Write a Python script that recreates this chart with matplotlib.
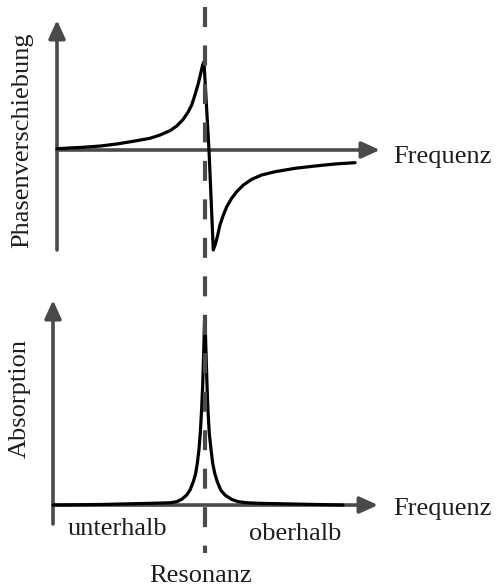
import matplotlib
matplotlib.use("Agg")
import matplotlib.pyplot as plt
from matplotlib.lines import Line2D
from matplotlib import transforms

plt.rcParams['font.family'] = ['Liberation Serif', 'DejaVu Serif']
plt.rcParams['lines.scale_dashes'] = False

# ---- data (relative frequency: resonance = 1.0) ----
phase_freq = [0.0, 0.088, 0.178, 0.291, 0.403, 0.516, 0.628, 0.696, 0.764, 0.809,
              0.853, 0.887, 0.910, 0.932, 0.955, 0.971, 0.984, 0.993,
              1.027,
              1.056, 1.072, 1.086, 1.101, 1.124, 1.147, 1.180, 1.214, 1.259, 1.316,
              1.383, 1.473, 1.608, 1.743, 1.878, 2.014]
phase_vals = [0.015, 0.023, 0.031, 0.045, 0.068, 0.099, 0.133, 0.170, 0.220, 0.273,
              0.349, 0.435, 0.511, 0.625, 0.758, 0.871, 0.966, 1.003,
              0.0,
              -1.136, -1.061, -0.966, -0.852, -0.739, -0.644, -0.549, -0.474, -0.398, -0.333,
              -0.284, -0.247, -0.208, -0.182, -0.159, -0.144]

abs_freq = [-0.027, 0.300, 0.628, 0.764, 0.809, 0.842, 0.876, 0.899, 0.921, 0.937,
            0.948, 0.959, 0.968, 0.977, 0.984, 0.991, 0.995, 0.998,
            1.002, 1.007, 1.014, 1.020, 1.029, 1.041, 1.052, 1.066, 1.083, 1.106,
            1.135, 1.180, 1.225, 1.282, 1.372, 1.932]
abs_vals = [0.0, 0.003, 0.009, 0.012, 0.018, 0.030, 0.053, 0.080, 0.124, 0.168,
            0.222, 0.293, 0.381, 0.505, 0.629, 0.807, 0.931, 1.002,
            0.931, 0.807, 0.629, 0.505, 0.381, 0.293, 0.222, 0.168, 0.124, 0.080,
            0.053, 0.030, 0.018, 0.012, 0.009, 0.0]

resonance = 1.0
x_label = "Frequenz"
top_ylabel = "Phasenverschiebung"
bottom_ylabel = "Absorption"
region_labels = ["unterhalb", "oberhalb"]
res_label = "Resonanz"

W, H = 496, 586
fig = plt.figure(figsize=(W / 100, H / 100), dpi=100)

axis_col = '#4a4a4a'
text_col = '#1e1e1e'
fs = 19

def px_ax(left, top, right, bottom):
    return fig.add_axes([left / W, 1 - bottom / H, (right - left) / W, (bottom - top) / H])

# top panel
ax1 = px_ax(40, 0, 400, 270)
ax1.set_xlim(-0.1149, 2.3176)
ax1.set_ylim(-1.3636, 1.7045)
ax1.axis('off')

# bottom panel
ax2 = px_ax(40, 280, 400, 540)
ax2.set_xlim(-0.1149, 2.3176)
ax2.set_ylim(-0.186, 1.197)
ax2.axis('off')

arrow_kw = dict(arrowstyle='-|>,head_length=0.55,head_width=0.25', mutation_scale=20,
                color=axis_col, lw=2.6, shrinkA=0, shrinkB=0)

# top axes arrows
ax1.annotate('', xy=(0, 1.477), xytext=(0, -1.136), arrowprops=arrow_kw,
             annotation_clip=False)
ax1.annotate('', xy=(2.182, 0), xytext=(0, 0), arrowprops=arrow_kw,
             annotation_clip=False)
# bottom axes arrows
ax2.annotate('', xy=(-0.027, 1.09), xytext=(-0.027, -0.101), arrowprops=arrow_kw,
             annotation_clip=False)
ax2.annotate('', xy=(2.169, 0), xytext=(-0.027, 0), arrowprops=arrow_kw,
             annotation_clip=False)

# dashed resonance line spanning both panels
trans = transforms.blended_transform_factory(ax1.transData, fig.transFigure)
dash = Line2D([resonance, resonance], [1 - 7 / H, 1 - 553 / H], transform=trans,
              color=axis_col, lw=3.0, dashes=(14.4, 13.3), zorder=1)
fig.add_artist(dash)

# curves
ax1.plot(phase_freq, phase_vals, color='black', lw=2.3, zorder=5,
         solid_joinstyle='round', solid_capstyle='round', clip_on=False)
ax2.plot(abs_freq, abs_vals, color='black', lw=2.3, zorder=5,
         solid_joinstyle='round', solid_capstyle='round', clip_on=False)

# labels
ax1.text(2.27, -0.148, x_label, fontsize=fs, color=text_col, ha='left', va='baseline')
ax2.text(2.27, -0.053, x_label, fontsize=fs, color=text_col, ha='left', va='baseline')
ax2.text(0.409, -0.16, region_labels[0], fontsize=fs, color=text_col, ha='center', va='baseline')
ax2.text(1.608, -0.186, region_labels[1], fontsize=fs, color=text_col, ha='center', va='baseline')
fig.text(201 / W, 1 - 582 / H, res_label, fontsize=fs, color=text_col, ha='center', va='baseline')
fig.text(22 / W, 1 - 140 / H, top_ylabel, fontsize=fs, color=text_col, rotation=90,
         ha='center', va='center')
fig.text(20 / W, 1 - 398 / H, bottom_ylabel, fontsize=fs, color=text_col, rotation=90,
         ha='center', va='center')

fig.savefig('out.png', dpi=100)
